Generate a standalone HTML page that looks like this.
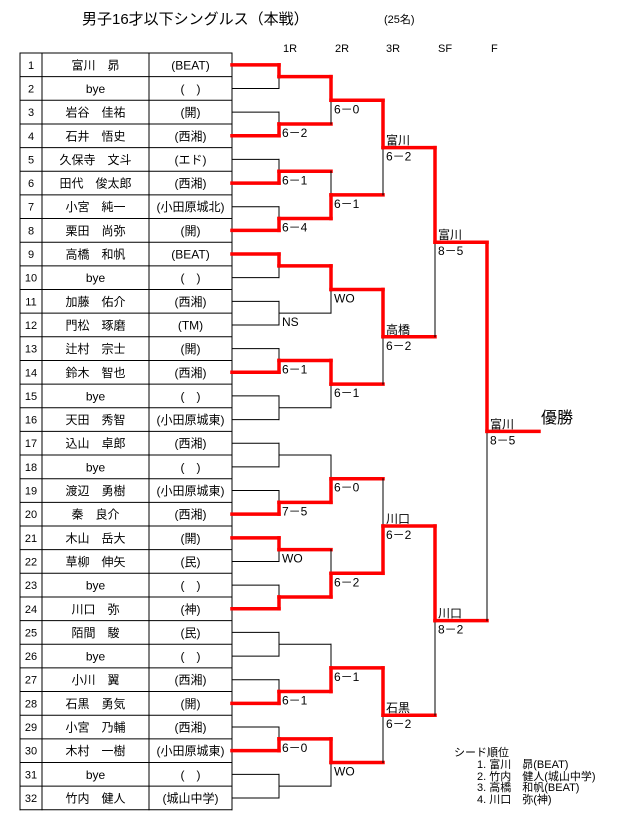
<!DOCTYPE html>
<html><head><meta charset="utf-8"><style>
html,body{margin:0;padding:0;background:#fff;}
svg{display:block;font-family:"Liberation Sans","Noto Sans CJK JP",sans-serif;}
</style></head><body>
<svg id="s" width="623" height="822" xmlns="http://www.w3.org/2000/svg">
<text x="82" y="24" font-size="15">男子16才以下シングルス（本戦）</text>
<text x="384" y="23" font-size="11">(25名)</text>
<text x="283" y="52" font-size="11">1R</text>
<text x="335" y="52" font-size="11">2R</text>
<text x="386" y="52" font-size="11">3R</text>
<text x="438" y="52" font-size="11">SF</text>
<text x="491" y="52" font-size="11">F</text>
<text x="541" y="423" font-size="16">優勝</text>
<g font-size="11">
<text x="454" y="756">シード順位</text>
<text x="477" y="768">1. 富川　昴(BEAT)</text>
<text x="477" y="780">2. 竹内　健人(城山中学)</text>
<text x="477" y="791">3. 高橋　和帆(BEAT)</text>
<text x="477" y="803">4. 川口　弥(神)</text>
</g>
</svg>
<script>
var S=document.getElementById('s'),NS='http://www.w3.org/2000/svg';
function el(t,a,txt){var e=document.createElementNS(NS,t);for(var k in a)e.setAttribute(k,a[k]);if(txt!=null)e.textContent=txt;S.appendChild(e);return e;}
function ln(x1,y1,x2,y2,red){el('line',{x1:x1,y1:y1,x2:x2,y2:y2,stroke:red?'#ff0000':'#000','stroke-width':red?3.5:1,'stroke-linecap':'square'});}
var T=53,H=23.65,N=32;
var names=["富川　昴","bye","岩谷　佳祐","石井　悟史","久保寺　文斗","田代　俊太郎","小宮　純一","栗田　尚弥","高橋　和帆","bye","加藤　佑介","門松　琢磨","辻村　宗士","鈴木　智也","bye","天田　秀智","込山　卓郎","bye","渡辺　勇樹","秦　良介","木山　岳大","草柳　伸矢","bye","川口　弥","陌間　駿","bye","小川　翼","石黒　勇気","小宮　乃輔","木村　一樹","bye","竹内　健人"];
var aff=["(BEAT)","(　)","(開)","(西湘)","(エド)","(西湘)","(小田原城北)","(開)","(BEAT)","(　)","(西湘)","(TM)","(開)","(西湘)","(　)","(小田原城東)","(西湘)","(　)","(小田原城東)","(西湘)","(開)","(民)","(　)","(神)","(民)","(　)","(西湘)","(開)","(西湘)","(小田原城東)","(　)","(城山中学)"];
// table
for(var i=0;i<=N;i++)ln(20,T+i*H,232,T+i*H,false);
ln(20,T,20,T+N*H);ln(42,T,42,T+N*H);ln(149,T,149,T+N*H);ln(232,T,232,T+N*H);
var ys=[];
for(var i=0;i<N;i++){var c=T+H*(i+0.5);ys.push(c);
el('text',{x:31,y:c+4,'font-size':11,'text-anchor':'middle'},String(i+1));
el('text',{x:95.5,y:c+4.5,'font-size':12,'text-anchor':'middle'},names[i]);
el('text',{x:190.5,y:c+4.5,'font-size':12,'text-anchor':'middle'},aff[i]);}
var X=[232,279,331,383,435,487,539];
var W=[
[0,1,1,1,0,null,1,null,null,1,0,1,null,1,1,null],
[0,1,0,0,1,1,1,0],
[0,0,1,0],
[0,0],
[0]];
var SC=[
["","6－2","6－1","6－4","","NS","6－1","","","7－5","WO","","","6－1","6－0",""],
["6－0","6－1","WO","6－1","6－0","6－2","6－1","WO"],
["6－2","6－2","6－2","6－2"],
["8－5","8－2"],["8－5"]];
var NM=[null,null,["富川","高橋","川口","石黒"],["富川","川口"],["富川"]];
// childRed: whether the horizontal into level L from child is red
var cy=ys.slice(),cred=[];
// level 0 red: player won 1R
for(var i=0;i<N;i++){var w=W[0][i>>1];cred.push(w!==null&&w===(i&1));}
for(var L=0;L<5;L++){
 var xa=X[L],xb=X[L+1],ny=[],nr=[];
 for(var k=0;k<cy.length/2;k++){
  var a=cy[2*k],b=cy[2*k+1],m=(a+b)/2,w=W[L][k];
  ln(xa,a,xb,a,cred[2*k]);ln(xa,b,xb,b,cred[2*k+1]);
  ny.push(m);nr.push(w!==null);
 }
 // draw verticals after (black first then red)
 for(var k=0;k<ny.length;k++){
  var a=cy[2*k],b=cy[2*k+1],m=ny[k],w=W[L][k];
  ln(xb,a,xb,m,w===0);ln(xb,m,xb,b,w===1);
 }
 for(var k=0;k<ny.length;k++){
  if(SC[L][k])el('text',{x:xb+3,y:ny[k]+13,'font-size':12},SC[L][k]);
  if(NM[L]&&NM[L][k])el('text',{x:xb+3,y:ny[k]-3,'font-size':12},NM[L][k]);
 }
 cy=ny;cred=nr;
}
ln(X[5],cy[0],X[6],cy[0],true);
</script>
</body></html>
